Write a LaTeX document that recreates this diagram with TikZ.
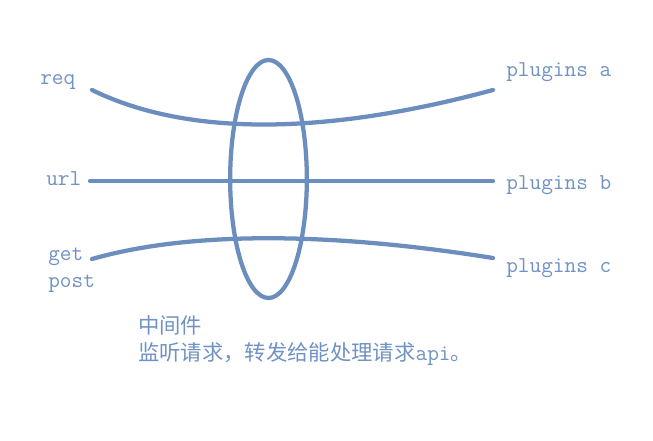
\documentclass[tikz,border=0pt]{standalone}
\usepackage{fontspec}
\newfontfamily\cjk{Noto Sans CJK SC}
\usetikzlibrary{shapes.geometric}
\definecolor{lineblue}{RGB}{108,142,190}
\definecolor{textblue}{RGB}{112,146,196}
\tikzset{
  wire/.style={draw=lineblue, line width=3.2pt, line cap=round},
  lbl/.style={anchor=base west, inner sep=0pt, text=textblue, font=\ttfamily\fontsize{17}{19}\selectfont},
  note/.style={anchor=base west, inner sep=0pt, text=textblue, font=\cjk\fontsize{16}{20}\selectfont},
}
\begin{document}
\begin{tikzpicture}[x=0.75pt,y=-0.75pt]
\useasboundingbox[fill=white] (0,0) rectangle (653,441);
% labels
\node[lbl] (req) at (40,85) {req};
\node[lbl] (url) at (46,186) {url};
\node[lbl] (get) at (48,261) {get};
\node[lbl] (post) at (48,288) {post};
\node[lbl] (pa) at (506,77) {plugins a};
\node[lbl] (pb) at (506,190) {plugins b};
\node[lbl] (pc) at (506,273) {plugins c};
\node[note] (n1) at (138,334) {中间件};
\node[note] (n2) at (138,361) {监听请求，转发给能处理请求{\ttfamily\fontsize{17}{20}\selectfont api}。};
% line ends
\coordinate (ra) at (92,90);
\coordinate (rb) at (493,90);
\coordinate (ua) at (90,181);
\coordinate (ub) at (493,181);
\coordinate (ga) at (92,259);
\coordinate (gb) at (493,258);
% middleware ellipse
\node[ellipse, draw=lineblue, line width=3.2pt, minimum width=57.5pt, minimum height=178.5pt, inner sep=0pt] (mw) at (268.5,179) {};
% wires
\path[wire] (ra) .. controls (190,138) and (330,134) .. (rb);
\path[wire] (ua) -- (ub);
\path[wire] (ga) .. controls (190,231) and (330,232) .. (gb);
\end{tikzpicture}
\end{document}
